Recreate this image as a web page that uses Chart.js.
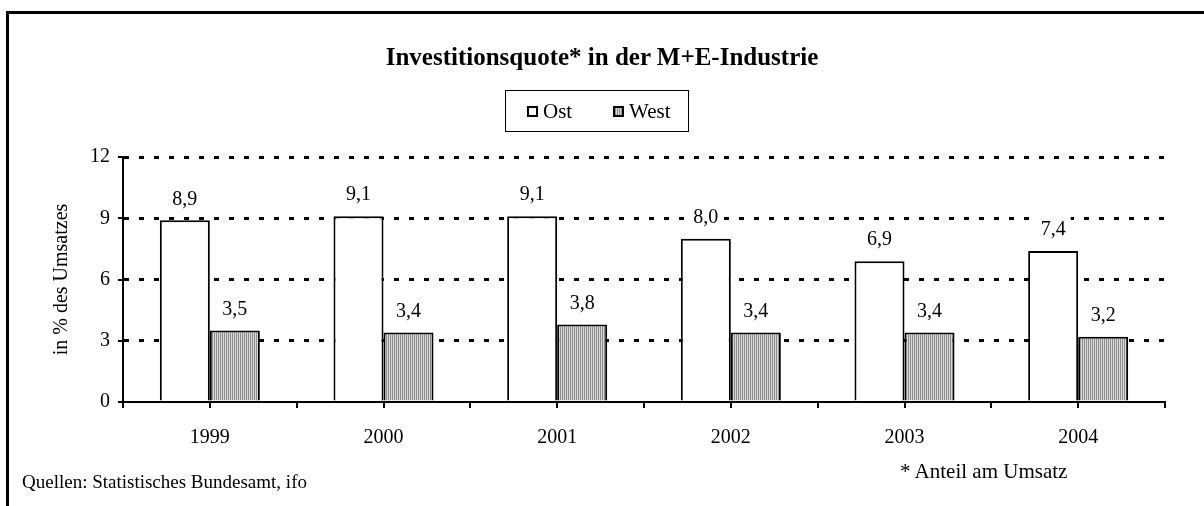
<!DOCTYPE html>
<html>
<head>
<meta charset="utf-8">
<script src="https://cdn.jsdelivr.net/npm/chart.js@4"></script>
<style>
  html, body { margin: 0; padding: 0; background: #fff; }
  body { width: 1204px; height: 506px; position: relative; overflow: hidden; font-family: "Liberation Serif", "Times New Roman", serif; color: #000; }
  #frame { position: absolute; left: 6px; top: 11px; width: 1400px; height: 700px; border-top: 3px solid #000; border-left: 3px solid #000; }
  #chart { position: absolute; left: 0; top: 0; }
  #title { position: absolute; left: 0; top: 43px; width: 1204px; text-align: center; font-weight: bold; font-size: 25px; line-height: 28px; }
  #legend { position: absolute; left: 505px; top: 90px; width: 182px; height: 40px; border: 1px solid #000; font-size: 21px; line-height: 40px; }
  #legend .item { position: absolute; top: 0; }
  #legend .sw { display: inline-block; width: 7px; height: 7px; border: 2px solid #000; margin-right: 5px; vertical-align: 1px; }
  .note { position: absolute; font-size: 19px; line-height: 22px; white-space: nowrap; }
</style>
</head>
<body>
<div id="frame"></div>
<canvas id="chart" width="1204" height="506"></canvas>
<div id="title">Investitionsquote* in der M+E-Industrie</div>
<div id="legend"></div>
<div class="note" style="left:22px; top:471px;">Quellen: Statistisches Bundesamt, ifo</div>
<div class="note" style="left:900px; top:460px; font-size:21px;">* Anteil am Umsatz</div>
<script>
const years = ['1999', '2000', '2001', '2002', '2003', '2004'];
const seriesNames = ['Ost', 'West'];
const ostValues = [8.9, 9.1, 9.1, 8.0, 6.9, 7.4];
const westValues = [3.5, 3.4, 3.8, 3.4, 3.4, 3.2];
const yTickValues = [0, 3, 6, 9, 12];

const FONT = '"Liberation Serif", "Times New Roman", serif';

// vertical stripes for the West bars
function stripePattern() {
    const c = document.createElement('canvas');
    c.width = 2; c.height = 2;
    const g = c.getContext('2d');
    g.fillStyle = '#d8d8d8';
    g.fillRect(0, 0, 2, 2);
    g.fillStyle = '#8e8e8e';
    g.fillRect(0, 0, 1, 2);
    return g.createPattern(c, 'repeat');
}

// legend as html
const legendEl = document.getElementById('legend');
const legendLeft = [21, 107];
seriesNames.forEach((name, i) => {
    const item = document.createElement('span');
    item.className = 'item';
    item.style.left = legendLeft[i] + 'px';
    const sw = document.createElement('span');
    sw.className = 'sw';
    sw.style.background = i === 0 ? '#fff' : 'repeating-linear-gradient(90deg, #8e8e8e 0 1px, #d8d8d8 1px 2px)';
    item.appendChild(sw);
    item.appendChild(document.createTextNode(name));
    legendEl.appendChild(item);
});

// axis tick marks crossing the axes
const tickMarks = {
    id: 'tickMarks',
    afterDraw(chart) {
        const ctx = chart.ctx;
        const x = chart.scales.x, y = chart.scales.y;
        ctx.save();
        ctx.strokeStyle = '#000';
        ctx.lineWidth = 2;
        ctx.beginPath();
        yTickValues.forEach(v => {
            const py = Math.round(y.getPixelForValue(v));
            ctx.moveTo(x.left - 5, py);
            ctx.lineTo(x.left + 5, py);
        });
        const step = (x.right - x.left) / years.length;
        for (let i = 0; i <= years.length; i++) {
            const px = Math.round(x.left + i * step);
            ctx.moveTo(px, y.bottom);
            ctx.lineTo(px, y.bottom + 6);
            if (i < years.length) {
                const pc = Math.round(x.getPixelForValue(i));
                ctx.moveTo(pc, y.bottom);
                ctx.lineTo(pc, y.bottom + 6);
            }
        }
        ctx.stroke();
        ctx.restore();
    }
};

// value labels with white box, decimal comma
const valueLabels = {
    id: 'valueLabels',
    afterDatasetsDraw(chart) {
        const ctx = chart.ctx;
        ctx.save();
        ctx.font = '20px ' + FONT;
        ctx.textAlign = 'center';
        ctx.textBaseline = 'middle';
        chart.data.datasets.forEach((ds, di) => {
            chart.getDatasetMeta(di).data.forEach((bar, i) => {
                const txt = ds.data[i].toFixed(1).replace('.', ',');
                const w = ctx.measureText(txt).width + 10;
                const cy = bar.y - 21;
                ctx.fillStyle = '#fff';
                ctx.fillRect(bar.x - w / 2, cy - 14, w, 28);
                ctx.fillStyle = '#000';
                ctx.fillText(txt, bar.x, cy);
            });
        });
        ctx.restore();
    }
};

new Chart(document.getElementById('chart'), {
    type: 'bar',
    data: {
        labels: years,
        datasets: [
            { label: seriesNames[0], data: ostValues, backgroundColor: '#fff', borderColor: '#000', borderWidth: 2 },
            { label: seriesNames[1], data: westValues, backgroundColor: stripePattern(), borderColor: '#000', borderWidth: 2 }
        ]
    },
    options: {
        responsive: false,
        animation: false,
        events: [],
        categoryPercentage: 0.576,
        barPercentage: 1,
        layout: { padding: { left: 50, right: 39, top: 157, bottom: 44 } },
        plugins: { legend: { display: false }, tooltip: { enabled: false } },
        scales: {
            x: {
                grid: { display: false, drawTicks: false },
                border: { display: true, color: '#000', width: 2 },
                ticks: { color: '#000', padding: 24, font: { family: FONT, size: 20 } },
                afterFit(scale) { scale.height = 60; }
            },
            y: {
                min: 0,
                max: 12,
                afterBuildTicks(scale) { scale.ticks = yTickValues.map(v => ({ value: v })); },
                grid: {
                    drawTicks: false,
                    lineWidth: 3,
                    color: ctx => ctx.tick && ctx.tick.value === 0 ? 'rgba(0,0,0,0)' : '#000'
                },
                border: { display: true, color: '#000', width: 2, dash: [5, 10] },
                ticks: { color: '#000', padding: 13, font: { family: FONT, size: 20 } },
                title: { display: true, text: 'in % des Umsatzes', color: '#000', padding: 0, font: { family: FONT, size: 20 } },
                afterFit(scale) { scale.width = 73; }
            }
        }
    },
    plugins: [tickMarks, valueLabels]
});
</script>
</body>
</html>
